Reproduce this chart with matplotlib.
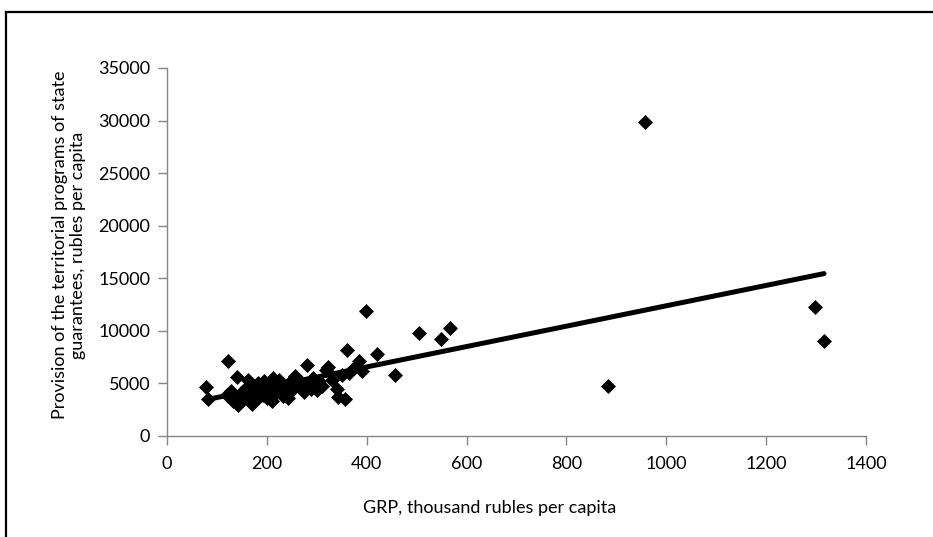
import numpy as np
import matplotlib
matplotlib.use("Agg")
import matplotlib.pyplot as plt
from matplotlib.lines import Line2D

plt.rcParams['font.family'] = ['Lato', 'DejaVu Sans']

# GRP, thousand rubles per capita
grp = [79, 83, 123, 120, 128, 133, 138, 141, 143, 148,
       152, 158, 160, 163, 167, 170, 172, 175, 178, 182,
       185, 188, 192, 195, 198, 200, 203, 207, 210, 213,
       216, 220, 224, 228, 232, 238, 243, 247, 252, 256,
       260, 265, 270, 275, 280, 283, 288, 292, 296, 300,
       305, 310, 318, 322, 330, 340, 343, 350, 357, 360,
       365, 375, 385, 390, 398, 420, 457, 505, 548, 567,
       883, 958, 1298, 1316]
# Provision of territorial programs of state guarantees, rubles per capita
prov = [4700, 3550, 7150, 3900, 4300, 3300, 3700, 5650, 2950, 4100,
        3500, 4600, 3900, 5300, 4300, 3000, 3600, 4800, 4100, 5000,
        3700, 4400, 3900, 5200, 4600, 3600, 4200, 4900, 3300, 5500,
        4000, 4600, 5300, 4300, 3800, 4800, 3600, 5100, 4500, 5700,
        4900, 5300, 4700, 4200, 6800, 5000, 4500, 5500, 4900, 4400,
        5200, 4800, 6300, 6600, 5300, 4500, 3700, 5800, 3500, 8200,
        6000, 6500, 7100, 6200, 11900, 7800, 5800, 9800, 9200, 10300,
        4800, 29850, 12300, 9000]

x_ticks = [0, 200, 400, 600, 800, 1000, 1200, 1400]
y_ticks = [0, 5000, 10000, 15000, 20000, 25000, 30000, 35000]
x_title = "GRP, thousand rubles per capita"
y_title = "Provision of the territorial programs of state\nguarantees, rubles per capita"

fig = plt.figure(figsize=(9.33, 5.37), dpi=100)
ax = fig.add_axes([167/933, 1-436/537, (866-167)/933, (436-68)/537])

ax.plot(grp, prov, linestyle='none', marker='D', markersize=7.3,
        color='black', markeredgewidth=0.5, zorder=3)

# linear trend line fitted to the data
gx = np.array(grp, dtype=float)
gy = np.array(prov, dtype=float)
slope, intercept = np.polyfit(gx, gy, 1)
tx = np.array([gx.min(), gx.max()])
ax.plot(tx, intercept + slope*tx, color='black', lw=3.6, solid_capstyle='round', zorder=4)

ax.set_xlim(0, 1400)
ax.set_ylim(0, 35000)
ax.set_xticks(x_ticks)
ax.set_yticks(y_ticks)
ax.set_xticklabels([str(v) for v in x_ticks])
ax.set_yticklabels([str(v) for v in y_ticks])
for s in ['top', 'right']:
    ax.spines[s].set_visible(False)
for s in ['left', 'bottom']:
    ax.spines[s].set_color('#868686')
    ax.spines[s].set_linewidth(1.0)
ax.tick_params(axis='both', direction='out', length=6.5, width=1.0,
               color='#868686', labelsize=13, labelcolor='black')
ax.tick_params(axis='y', pad=5.5)
ax.tick_params(axis='x', pad=8)

fig.text(490/933, 1-508/537, x_title, ha='center', va='center', fontsize=13)
fig.text(69/933, 1-245/537, y_title, ha='center', va='center', fontsize=13,
         rotation=90, multialignment='center', linespacing=1.2)

# outer frame (top and left edges)
fig.add_artist(Line2D([6/933, 1], [1-12/537, 1-12/537], transform=fig.transFigure,
                      color='black', lw=1.6))
fig.add_artist(Line2D([6/933, 6/933], [0, 1-12/537], transform=fig.transFigure,
                      color='black', lw=1.6))

fig.savefig('out.png', dpi=100)
